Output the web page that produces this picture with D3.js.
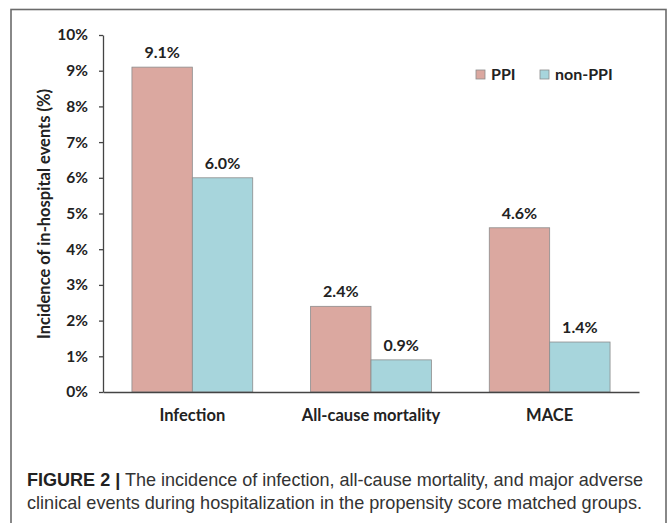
<!DOCTYPE html>
<html>
<head>
<meta charset="utf-8">
<script src="https://cdn.jsdelivr.net/npm/d3@7"></script>
<style>
  html, body { margin: 0; padding: 0; background: #fff; }
  svg { display: block; }
  .bold { font-family: Lato, "Open Sans", "DejaVu Sans", sans-serif; font-weight: 700; fill: #222; }
</style>
</head>
<body>
<svg id="chart" width="670" height="523"></svg>
<script>
const categories = ["Infection", "All-cause mortality", "MACE"];
const seriesNames = ["PPI", "non-PPI"];
const ppiValues = [9.1, 2.4, 4.6];
const nonPpiValues = [6.0, 0.9, 1.4];
const yTicks = [0, 1, 2, 3, 4, 5, 6, 7, 8, 9, 10];
const yTitle = "Incidence of in-hospital events (%)";
const captionBold = "FIGURE 2 |";
const captionLine1 = " The incidence of infection, all-cause mortality, and major adverse";
const captionLine2 = "clinical events during hospitalization in the propensity score matched groups.";

const colors = { "PPI": "#dba8a0", "non-PPI": "#a7d5dc" };
const seriesValues = { "PPI": ppiValues, "non-PPI": nonPpiValues };

const svg = d3.select("#chart");

// outer frame
svg.append("rect")
  .attr("x", 11).attr("y", 9.5).attr("width", 655).attr("height", 530)
  .attr("fill", "none").attr("stroke", "#6b6b6b").attr("stroke-width", 1.6);

const plot = { left: 103, right: 639, top: 35, bottom: 392 };

const y = d3.scaleLinear().domain([0, 10]).range([plot.bottom, plot.top]);
const x = d3.scaleBand().domain(categories).range([plot.left, plot.right]).padding(0);
const xs = d3.scaleBand().domain(seriesNames)
  .range([x.bandwidth() * 0.162, x.bandwidth() * 0.838]).padding(0);

// bars
const data = [];
categories.forEach((c, i) => {
  seriesNames.forEach(s => data.push({ cat: c, series: s, value: seriesValues[s][i] }));
});

svg.append("g").selectAll("rect").data(data).join("rect")
  .attr("x", d => x(d.cat) + xs(d.series))
  .attr("y", d => y(d.value))
  .attr("width", xs.bandwidth())
  .attr("height", d => y(0) - y(d.value))
  .attr("fill", d => colors[d.series])
  .attr("stroke", "#8c8c8c")
  .attr("stroke-width", 0.8);

// value labels
svg.append("g").selectAll("text").data(data).join("text")
  .attr("class", "bold")
  .attr("x", d => x(d.cat) + xs(d.series) + xs.bandwidth() / 2)
  .attr("y", d => y(d.value) - 9)
  .attr("text-anchor", "middle")
  .attr("font-size", 16)
  .attr("fill", "#333")
  .text(d => d.value.toFixed(1) + "%");

// y axis
const yAxis = svg.append("g")
  .attr("transform", `translate(${plot.left},0)`)
  .call(d3.axisLeft(y).tickValues(yTicks).tickFormat(d => d + "%").tickSize(4).tickSizeOuter(0).tickPadding(11));
yAxis.select(".domain").attr("stroke", "#444").attr("stroke-width", 1.3);
yAxis.selectAll(".tick line").attr("stroke", "#444").attr("stroke-width", 1.3);
yAxis.selectAll(".tick text")
  .attr("class", "bold").attr("font-size", 15.5).attr("fill", "#222");

// x axis
const xAxis = svg.append("g")
  .attr("transform", `translate(0,${plot.bottom})`)
  .call(d3.axisBottom(x).tickSize(0).tickPadding(17));
xAxis.select(".domain").attr("stroke", "#444").attr("stroke-width", 1.3);
xAxis.selectAll(".tick text")
  .attr("class", "bold").attr("font-size", 16.5).attr("fill", "#222");

// y title
svg.append("text")
  .attr("class", "bold")
  .attr("transform", "translate(50,214) rotate(-90)")
  .attr("text-anchor", "middle")
  .attr("font-size", 16.5)
  .text(yTitle);

// legend
const legendX = [476, 540];
const lg = svg.append("g").selectAll("g").data(seriesNames).join("g")
  .attr("transform", (d, i) => `translate(${legendX[i]},70)`);
lg.append("rect")
  .attr("width", 9).attr("height", 9)
  .attr("fill", d => colors[d]).attr("stroke", "#8c8c8c").attr("stroke-width", 0.8);
lg.append("text")
  .attr("class", "bold")
  .attr("x", 15).attr("y", 10)
  .attr("font-size", 16)
  .text(d => d);

// caption
const capFont = '"Liberation Sans Narrow", "Arial Narrow", "Liberation Sans", Arial, sans-serif';
const cap1 = svg.append("text")
  .attr("x", 27).attr("y", 486)
  .attr("font-family", capFont).attr("font-size", 18.5).attr("fill", "#333")
  .attr("textLength", 616).attr("lengthAdjust", "spacingAndGlyphs");
cap1.append("tspan").attr("font-weight", 700).attr("fill", "#222").text(captionBold);
cap1.append("tspan").text(captionLine1);
svg.append("text")
  .attr("x", 27).attr("y", 509)
  .attr("font-family", capFont).attr("font-size", 18.5).attr("fill", "#333")
  .attr("textLength", 615).attr("lengthAdjust", "spacingAndGlyphs")
  .text(captionLine2);
</script>
</body>
</html>
